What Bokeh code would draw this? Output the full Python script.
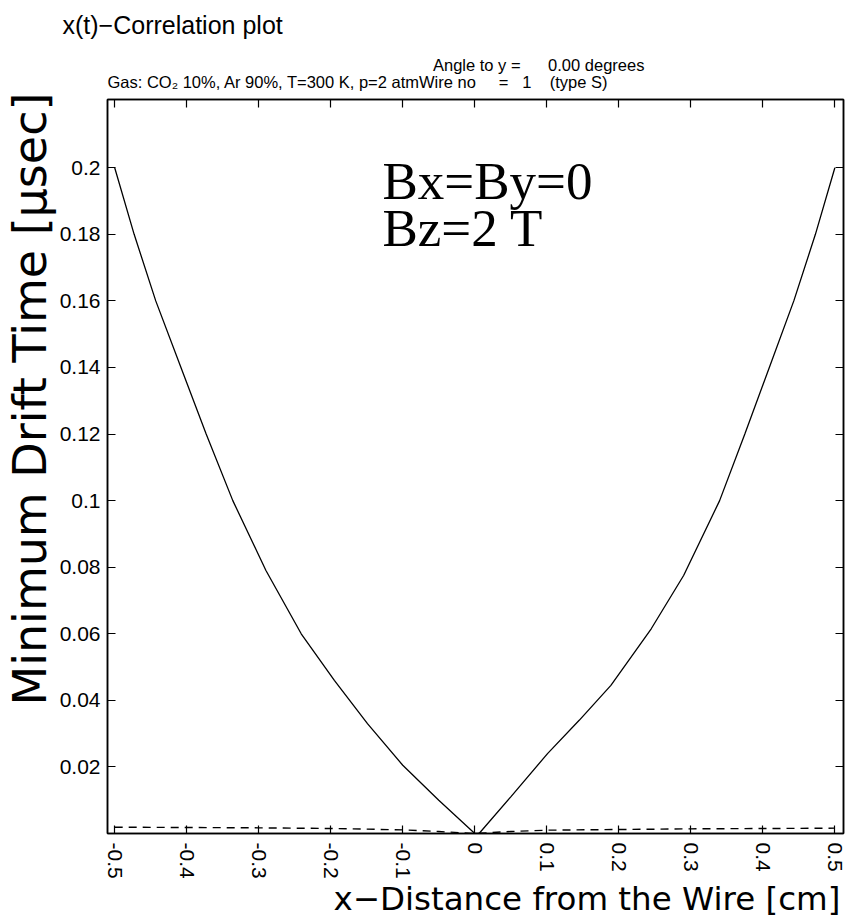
import math
from bokeh.plotting import figure
from bokeh.models import Label, LinearAxis, FixedTicker, Range1d, Title
from bokeh.embed import file_html
from bokeh.resources import INLINE

# Minimum drift time [usec] against x-distance from the wire [cm]
x_left = [-0.5, -0.473, -0.443, -0.408, -0.373, -0.336, -0.29, -0.241, -0.195, -0.149, -0.10, -0.05, 0.0]
t_left = [0.200, 0.180, 0.160, 0.140, 0.120, 0.100, 0.079, 0.060, 0.046, 0.033, 0.0205, 0.010, 0.0]
x_right = [0.006, 0.05, 0.101, 0.145, 0.189, 0.245, 0.29, 0.34, 0.375, 0.409, 0.443, 0.473, 0.5]
t_right = [0.0, 0.011, 0.024, 0.034, 0.0445, 0.0615, 0.0775, 0.100, 0.120, 0.140, 0.160, 0.180, 0.200]

# dashed reference curve along the bottom
dash_x = [-0.5, -0.4, -0.3, -0.2, -0.1, -0.05, 0.0, 0.05, 0.1, 0.2, 0.3, 0.4, 0.5]
dash_t = [0.0019, 0.0018, 0.0017, 0.0015, 0.0011, 0.0006, 0.0, 0.0006, 0.0010, 0.0012, 0.0014, 0.0015, 0.0016]

x_ticks = [-0.5, -0.4, -0.3, -0.2, -0.1, 0.0, 0.1, 0.2, 0.3, 0.4, 0.5]
x_tick_labels = ["-0.5", "-0.4", "-0.3", "-0.2", "-0.1", "0", "0.1", "0.2", "0.3", "0.4", "0.5"]
y_ticks = [0.02, 0.04, 0.06, 0.08, 0.10, 0.12, 0.14, 0.16, 0.18, 0.20]
y_tick_labels = ["0.02", "0.04", "0.06", "0.08", "0.1", "0.12", "0.14", "0.16", "0.18", "0.2"]

SANS = "Liberation Sans"
WIDE = "DejaVu Sans"
NB = "\u00a0"

p = figure(width=856, height=918, output_backend="svg", toolbar_location=None,
           title_location=None,
           x_range=Range1d(-0.51, 0.512), y_range=Range1d(0.0, 0.2205),
           min_border_left=107, min_border_right=13, min_border_top=98, min_border_bottom=85,
           background_fill_color="white", border_fill_color="white")
p.grid.visible = False
p.outline_line_color = "black"
p.outline_line_width = 1.5

p.add_layout(LinearAxis(), "above")
p.add_layout(LinearAxis(), "right")

for ax in p.xaxis:
    ax.ticker = FixedTicker(ticks=x_ticks)
    ax.major_label_overrides = {t: s for t, s in zip(x_ticks, x_tick_labels)}
for ax in p.yaxis:
    ax.ticker = FixedTicker(ticks=y_ticks)
    ax.major_label_overrides = {t: s for t, s in zip(y_ticks, y_tick_labels)}

for ax in p.axis:
    ax.major_tick_in = 8
    ax.major_tick_out = 0
    ax.minor_tick_line_color = None
    ax.axis_line_width = 1.5
    ax.axis_line_color = "black"
    ax.major_tick_line_color = "black"
    ax.major_tick_line_width = 1.2
    ax.major_label_text_font = SANS
    ax.major_label_text_font_size = "21px"
    ax.major_label_text_color = "black"

# the top and right axes carry tick marks only
for ax in (p.above[0], p.right[0]):
    ax.major_label_text_color = None
    ax.major_label_text_font_size = "1px"
    ax.major_label_standoff = 0
p.below[0].major_label_orientation = -math.pi / 2
p.below[0].major_label_standoff = 9
p.left[0].major_label_standoff = 7

p.line(x_left + x_right, t_left + t_right, line_color="black", line_width=1.3)
p.line(dash_x, dash_t, line_color="black", line_width=1.4, line_dash="8 6")


def heading(text, side, size, offset, standoff=0, font=SANS, line_height=1.0):
    p.add_layout(Title(text=text, align="left", offset=offset, standoff=standoff,
                       text_font=font, text_font_size=f"{size}px", text_line_height=line_height,
                       text_font_style="normal", text_color="black"), side)


# two header lines above the frame (one block), then the plot title
header = (NB * 71 + "Angle to y =" + NB * 6 + "0.00 degrees\n"
          + "Gas: CO\u2082 10%, Ar 90%, T=300 K, p=2 atmWire no" + NB * 5 + "=" + NB * 3 + "1"
          + NB * 4 + "(type S)")
heading(header, "above", 16.5, 0, standoff=16, line_height=0.97)
heading("x(t)\u2212Correlation plot", "above", 25, -45, standoff=16)
heading("Minimum Drift Time [\u03bcsec]", "left", 46, 128, font=WIDE)
heading("x\u2212Distance from the Wire [cm]", "below", 32.5, 226, standoff=-8, font=WIDE)

# field annotation inside the frame, placed in screen pixels from the frame's lower left
for text, sy in (("Bx=By=0", 653), ("Bz=2 T", 606)):
    p.add_layout(Label(x=275, y=sy, x_units="screen", y_units="screen", text=text,
                       text_font="Liberation Serif", text_font_size="53px",
                       text_baseline="middle", text_color="black"))

open("out.html", "w").write(file_html(p, INLINE))
